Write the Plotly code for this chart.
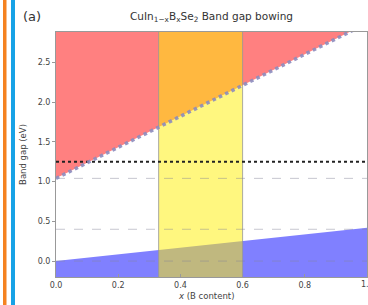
import plotly.graph_objects as go

# Data
x_content = [0.0, 0.2, 0.4, 0.6, 0.8, 1.0]
cb_edge = [1.04, 1.43, 1.82, 2.21, 2.60, 2.99]      # upper boundary (red region above)
vb_edge = [0.0, 0.085, 0.17, 0.25, 0.335, 0.42]     # lower boundary (blue region below)
window = [0.33, 0.6]                                # highlighted composition window
ref_dotted = 1.25
ref_dashed = [0.0, 0.4, 1.04]
x_ticks = [0.0, 0.2, 0.4, 0.6, 0.8, 1.0]
x_ticklabels = ["0.0", "0.2", "0.4", "0.6", "0.8", "1.0"]
y_ticks = [0.0, 0.5, 1.0, 1.5, 2.0, 2.5]
y_ticklabels = ["0.0", "0.5", "1.0", "1.5", "2.0", "2.5"]

Y_MIN, Y_MAX = -0.2, 2.88

fig = go.Figure()

# red region above CB edge
fig.add_trace(go.Scatter(
    x=x_content + x_content[::-1],
    y=cb_edge + [Y_MAX + 1] * len(x_content),
    fill="toself", fillcolor="#ff8080", line=dict(width=0),
    mode="lines", hoverinfo="skip", showlegend=False))

# blue region below VB edge
fig.add_trace(go.Scatter(
    x=x_content + x_content[::-1],
    y=vb_edge + [Y_MIN - 1] * len(x_content),
    fill="toself", fillcolor="#8080ff", line=dict(width=0),
    mode="lines", hoverinfo="skip", showlegend=False))

# yellow window
fig.add_trace(go.Scatter(
    x=[window[0], window[1], window[1], window[0], window[0]],
    y=[Y_MIN - 1, Y_MIN - 1, Y_MAX + 1, Y_MAX + 1, Y_MIN - 1],
    fill="toself", fillcolor="rgba(255,240,0,0.5)",
    line=dict(width=1, color="rgba(150,150,150,0.8)"),
    mode="lines", hoverinfo="skip", showlegend=False))

# grey dashed references
for yv in ref_dashed:
    fig.add_trace(go.Scatter(
        x=[0, 1], y=[yv, yv], mode="lines",
        line=dict(color="rgba(130,130,150,0.45)", width=1, dash="dash"),
        hoverinfo="skip", showlegend=False))

# black dotted reference
fig.add_trace(go.Scatter(
    x=[0, 1], y=[ref_dotted, ref_dotted], mode="lines",
    line=dict(color="#222222", width=2, dash="dot"),
    hoverinfo="skip", showlegend=False))

# hatched edge
fig.add_trace(go.Scatter(
    x=x_content, y=cb_edge, mode="lines",
    line=dict(color="rgba(140,140,190,0.9)", width=3.5, dash="dot"),
    hoverinfo="skip", showlegend=False))

L, R, T, B = 56, 1, 32, 28
W, H = 368, 305
pw = W - L - R
ph = H - T - B

def px_to_paper(px):
    return (px - L) / pw

shapes = [
    dict(type="rect", xref="paper", yref="paper",
         x0=px_to_paper(3), x1=px_to_paper(6.5), y0=-1, y1=2,
         fillcolor="#f58220", line=dict(width=0), layer="above"),
    dict(type="rect", xref="paper", yref="paper",
         x0=px_to_paper(11), x1=px_to_paper(15), y0=-1, y1=2,
         fillcolor="#17a2e6", line=dict(width=0), layer="above"),
]

fig.update_layout(
    width=W, height=H,
    margin=dict(l=L, r=R, t=T, b=B, autoexpand=False),
    paper_bgcolor="white", plot_bgcolor="white",
    font=dict(family="DejaVu Sans", color="#444444", size=8),
    title=dict(text="CuIn<sub>1−x</sub>B<sub>x</sub>Se<sub>2</sub> Band gap bowing",
               x=(L + pw / 2) / W, xanchor="center",
               y=1 - 16 / H, yanchor="middle",
               font=dict(size=10.5, color="#333333")),
    shapes=shapes,
    annotations=[
        dict(text="(a)", xref="paper", yref="paper",
             x=px_to_paper(21), xanchor="left",
             y=1 + 15 / ph, yanchor="middle",
             showarrow=False, font=dict(size=13, color="#333333")),
        dict(text="<i>x</i> (B content)", xref="paper", yref="paper",
             x=px_to_paper(206), xanchor="center",
             y=-(296 - (T + ph)) / ph, yanchor="middle",
             showarrow=False, font=dict(size=8.5, color="#444444")),
        dict(text=x_ticklabels[-1], xref="x", yref="paper",
             x=x_ticks[-1], xanchor="center",
             y=-(284 - (T + ph)) / ph, yanchor="middle",
             showarrow=False, font=dict(size=8, color="#444444")),
    ],
    xaxis=dict(range=[0, 1], tickvals=x_ticks, ticktext=x_ticklabels,
               showgrid=False, zeroline=False, showline=True, mirror=True,
               linecolor="#999999", linewidth=1, ticks="inside", ticklen=3,
               tickcolor="#999999", automargin=False),
    yaxis=dict(range=[Y_MIN, Y_MAX], tickvals=y_ticks, ticktext=y_ticklabels,
               showgrid=False, zeroline=False, showline=True, mirror=True,
               linecolor="#999999", linewidth=1, ticks="outside", ticklen=3,
               tickcolor="#999999", automargin=False,
               title=dict(text="Band gap (eV)", standoff=9,
                          font=dict(size=8.5, color="#444444"))),
)

fig.write_html("out.html",
               config={"displayModeBar": False},
               post_script="document.body.style.margin='0';document.body.style.overflow='hidden';")
